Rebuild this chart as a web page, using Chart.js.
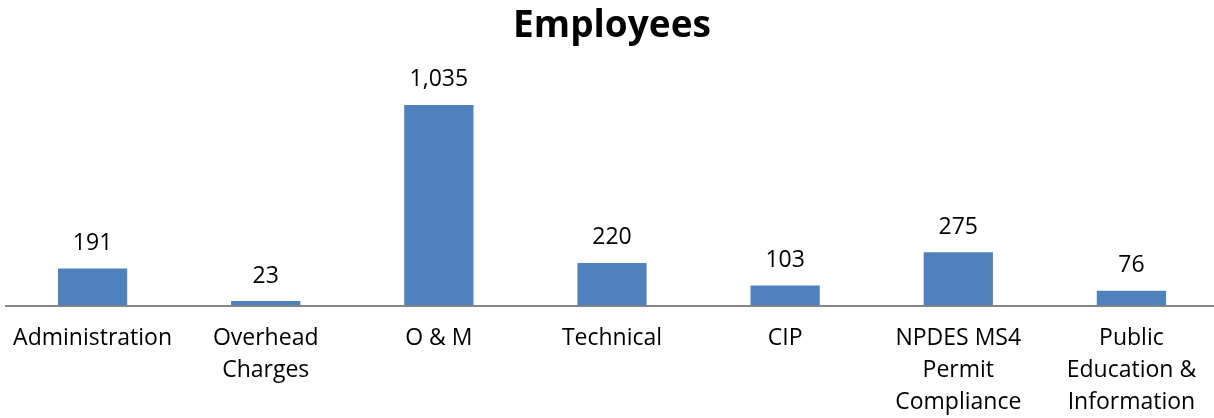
<!DOCTYPE html>
<html>
<head>
<meta charset="utf-8">
<script src="https://cdn.jsdelivr.net/npm/chart.js@4/dist/chart.umd.min.js"></script>
<style>
  html, body { margin: 0; padding: 0; background: #fff; overflow: hidden; }
  #wrap { width: 1218px; height: 418px; }
</style>
</head>
<body>
<div id="wrap"><canvas id="employeesChart"></canvas></div>
<script>
// Employees per program area
const categories = [
  "Administration",
  ["Overhead", "Charges"],
  "O & M",
  "Technical",
  "CIP",
  ["NPDES MS4", "Permit", "Compliance"],
  ["Public", "Education &", "Information"]
];
const employees = [191, 23, 1035, 220, 103, 275, 76];

const FONT = "'Open Sans', Lato, sans-serif";
const TEXT_SIZE = 23;

// draws the value above each bar
const valueLabels = {
  id: "valueLabels",
  afterDatasetsDraw(chart) {
    const ctx = chart.ctx;
    const meta = chart.getDatasetMeta(0);
    ctx.save();
    ctx.font = TEXT_SIZE + "px " + FONT;
    ctx.fillStyle = "#000";
    ctx.textAlign = "center";
    ctx.textBaseline = "alphabetic";
    meta.data.forEach((bar, i) => {
      ctx.fillText(employees[i].toLocaleString("en-US"), bar.x, bar.y - 18.5);
    });
    ctx.restore();
  }
};

new Chart(document.getElementById("employeesChart"), {
  type: "bar",
  data: {
    labels: categories,
    datasets: [{
      data: employees,
      backgroundColor: "#4F81BD",
      barPercentage: 0.4,
      categoryPercentage: 1.0
    }]
  },
  options: {
    responsive: true,
    maintainAspectRatio: false,
    animation: false,
    layout: { padding: { left: 6, right: 0, top: 0, bottom: -17.5 } },
    plugins: {
      legend: { display: false },
      tooltip: { enabled: false },
      title: {
        display: true,
        text: "Employees",
        color: "#000",
        font: { family: FONT, size: 37, weight: "bold" },
        padding: { top: 4, bottom: 24.6 }
      }
    },
    scales: {
      x: {
        grid: { display: false, drawTicks: false },
        border: { display: true, color: "#868686", width: 2 },
        ticks: {
          color: "#000",
          font: { family: FONT, size: TEXT_SIZE, lineHeight: 32 / TEXT_SIZE },
          padding: 17,
          autoSkip: false,
          maxRotation: 0
        },
        // keep the plot edge fixed; outer labels may run close to the border
        afterFit(scale) {
          scale.paddingLeft = 0;
          scale.paddingRight = 0;
        }
      },
      y: {
        display: false,
        min: 0,
        max: 1200
      }
    }
  },
  plugins: [valueLabels]
});
</script>
</body>
</html>
